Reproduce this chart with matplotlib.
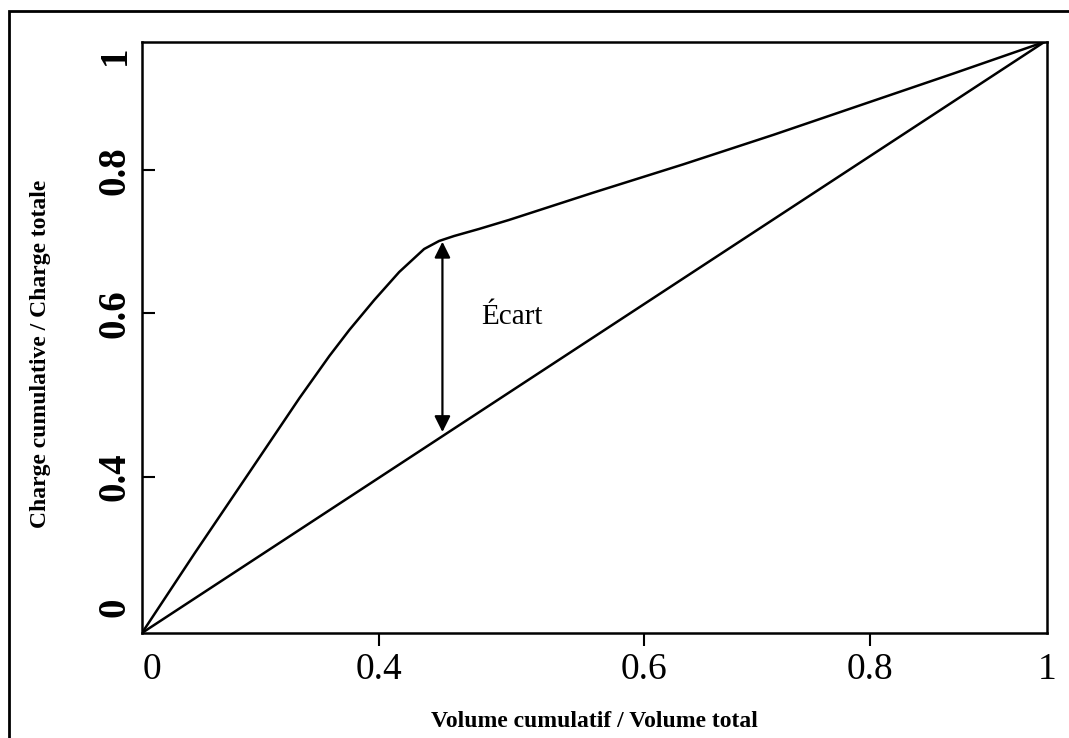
import matplotlib

matplotlib.use("Agg")
import matplotlib.pyplot as plt
from matplotlib.patches import Rectangle

plt.rcParams["font.family"] = ["Liberation Serif", "DejaVu Serif"]

# cumulative load vs cumulative volume (both normalised)
volume_frac = [0.0, 0.0586, 0.1193, 0.1746, 0.2077, 0.2298, 0.2575, 0.2851,
               0.3127, 0.3293, 0.3459, 0.3735, 0.4066, 0.5, 0.6, 0.7, 0.8,
               0.9, 1.0]
charge_frac = [0.0, 0.1354, 0.2724, 0.3976, 0.4687, 0.5127, 0.5635, 0.6108,
               0.6497, 0.6633, 0.6717, 0.6836, 0.6988, 0.745, 0.793, 0.843,
               0.895, 0.947, 1.0]

# uniform-distribution reference line
diag = [0.0, 1.0]

# gap arrow between the curve and the diagonal
gap_x = 0.333
gap_low = 0.340
gap_high = 0.662

# tick marks and their labels (ends are labelled without a tick)
x_ticks = [0.263, 0.556, 0.807]
x_tick_labels = ["0.4", "0.6", "0.8"]
x_end_ticks = [0.011, 1.003]
y_ticks = [0.264, 0.541, 0.783]
y_tick_labels = ["0.4", "0.6", "0.8"]
y_end_ticks = [0.044, 0.978]
end_labels = ["0", "1"]

fig = plt.figure(figsize=(10.69, 7.38), dpi=100)
ax = fig.add_axes([0.1328, 0.1423, 0.8466, 0.8008])

ax.plot(volume_frac, charge_frac, color="black", lw=1.8)
ax.plot(diag, diag, color="black", lw=1.8)
ax.annotate("", xy=(gap_x, gap_high), xytext=(gap_x, gap_low),
            arrowprops=dict(arrowstyle="<|-|>", color="black", lw=1.6,
                            mutation_scale=24, shrinkA=0, shrinkB=0))
ax.text(0.376, 0.535, "Écart", fontsize=21, va="center", ha="left")

ax.set_xlim(0, 1)
ax.set_ylim(0, 1)
for s in ax.spines.values():
    s.set_linewidth(1.8)

ax.set_xticks(x_ticks, x_tick_labels)
ax.set_xticks(x_end_ticks, end_labels, minor=True)
ax.tick_params(axis="x", which="major", direction="out", length=9, width=1.5,
               pad=5, labelsize=27)
ax.tick_params(axis="x", which="minor", length=0, pad=14, labelsize=27)

ax.set_yticks(y_ticks, y_tick_labels)
ax.set_yticks(y_end_ticks, end_labels, minor=True)
ax.tick_params(axis="y", which="both", direction="in", length=9, width=1.5,
               pad=6, labelsize=28, labelrotation=90)
ax.tick_params(axis="y", which="minor", length=0)
for lab in ax.get_yticklabels(which="both"):
    lab.set_fontweight("bold")
    lab.set_va("center")

fig.text(0.556, 0.022, "Volume cumulatif / Volume total", fontsize=17,
         fontweight="bold", ha="center", va="center")
fig.text(0.038, 0.52, "Charge cumulative / Charge totale", fontsize=17,
         fontweight="bold", ha="center", va="center", rotation=90)

# page border (left and top edges visible)
fig.add_artist(Rectangle((9 / 1069, -0.1), 1.2, 1.085, transform=fig.transFigure,
                         fill=False, lw=2, color="black"))

fig.savefig("out.png", dpi=100)
plt.close(fig)
